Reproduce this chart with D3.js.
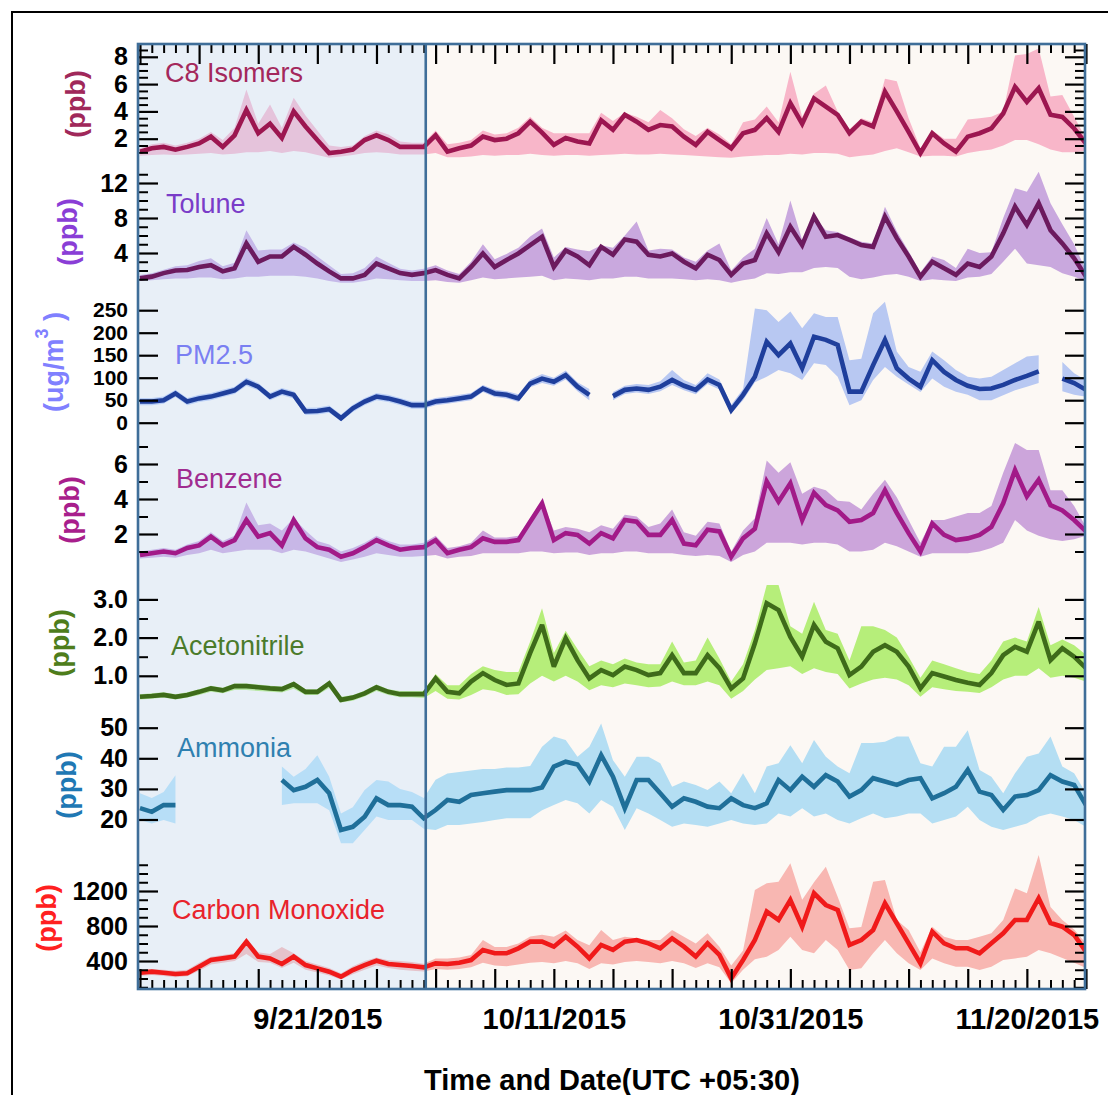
<!DOCTYPE html>
<html>
<head>
<meta charset="utf-8">
<script src="https://cdn.jsdelivr.net/npm/d3@7"></script>
<style>
  html, body { margin: 0; padding: 0; background: #ffffff; }
  svg { display: block; font-family: "Liberation Sans", Arial, Helvetica, sans-serif; }
</style>
</head>
<body>
<svg id="chart" width="1108" height="1095"></svg>
<script>
// ---- Daily observations, 6 Sep 2015 .. 25 Nov 2015 (81 days) ----
const firstDay = Date.UTC(2015, 8, 6);
const lastDay = Date.UTC(2015, 10, 26);
const days = d3.utcDay.range(new Date(firstDay), new Date(lastDay));

// C8 Isomers (ppb): daily mean, lower and upper envelope
const c8Mean = [1.05,1.3,1.4,1.2,1.4,1.65,2.15,1.4,2.25,4.1,
  2.4,3.1,2.05,4.0,2.9,1.9,0.95,1.05,1.2,1.9,
  2.25,1.9,1.4,1.4,1.4,2.25,1.05,1.3,1.5,2.15,
  1.9,2.0,2.4,3.25,2.45,1.55,2.05,1.8,1.65,3.35,
  2.65,3.75,3.25,2.65,3.0,2.9,2.15,1.55,2.5,1.9,
  1.3,2.4,2.65,3.5,2.5,4.6,3.1,4.95,4.35,3.75,
  2.4,3.25,2.9,5.45,4.0,2.5,0.95,2.4,1.65,1.05,
  2.15,2.4,2.75,3.85,5.8,4.7,5.7,3.75,3.6,2.75,
  1.65];
const c8Hi = [1.3,1.6,1.7,1.5,1.7,2.0,2.5,1.9,2.8,5.6,
  3.1,4.5,2.8,5.0,3.7,2.6,1.5,1.4,1.5,2.2,
  2.6,2.3,1.8,1.7,1.7,2.6,1.6,1.7,1.9,2.6,
  2.3,2.4,2.8,3.6,2.8,2.4,2.4,2.4,2.4,3.9,
  3.3,3.9,3.6,3.2,4.1,3.5,2.7,2.2,2.8,2.3,
  1.6,3.2,3.4,4.35,3.2,6.9,3.6,5.3,5.9,4.0,
  2.7,3.5,3.2,6.4,6.2,3.5,1.3,2.6,2.0,2.0,
  3.4,3.5,3.6,4.0,8.1,8.2,8.6,5.1,5.2,3.6,
  2.0];
const c8Lo = [0.75,0.8,0.85,0.8,0.85,0.9,0.95,0.85,0.9,1.0,
  1.0,1.1,0.95,1.1,1.0,0.8,0.6,0.7,0.8,0.95,
  1.0,0.95,0.85,0.85,0.85,0.95,0.65,0.65,0.7,0.8,
  0.75,0.8,0.8,0.9,0.8,0.75,0.8,0.8,0.75,0.8,
  0.85,0.9,0.85,0.85,0.9,0.85,0.8,0.75,0.7,0.65,
  0.6,0.7,0.75,0.8,0.8,0.9,0.85,0.95,0.95,0.9,
  0.65,0.75,0.85,1.1,1.3,1.0,0.7,0.75,0.75,0.7,
  0.95,1.1,1.2,1.5,1.9,1.9,1.6,1.2,1.0,1.0,
  1.1];

// Toluene (ppb)
const tolMean = [1.1,1.3,1.7,2.0,2.05,2.4,2.6,1.9,2.25,5.1,
  3.0,3.6,3.6,4.7,3.8,2.8,1.9,1.1,1.1,1.5,
  2.8,2.25,1.7,1.5,1.7,2.05,1.5,1.1,2.4,3.95,
  2.4,3.2,3.95,4.9,5.85,2.4,4.3,3.6,2.6,4.7,
  3.8,5.55,5.3,3.8,3.6,3.95,3.0,2.25,3.8,3.2,
  1.5,2.8,3.2,6.25,4.1,7.0,4.9,8.15,5.85,6.05,
  5.5,4.9,4.7,8.15,5.7,3.6,1.3,3.0,2.25,1.5,
  2.8,2.4,3.6,6.25,9.3,7.2,9.7,6.6,5.1,3.4,
  1.3];
const tolHi = [1.5,1.7,2.1,2.5,2.6,3.1,3.4,2.5,2.9,6.6,
  4.3,4.4,4.4,5.2,4.6,3.6,2.6,1.6,1.7,2.3,
  3.6,2.9,2.2,2.0,2.2,2.6,2.0,1.6,3.0,5.0,
  3.3,3.9,4.6,5.9,6.8,3.5,4.7,4.4,4.2,4.9,
  4.6,6.0,7.6,4.3,4.5,4.4,3.5,3.0,4.3,5.1,
  2.0,3.5,4.5,8.0,5.0,10.0,5.5,8.2,6.6,6.4,
  5.8,5.3,5.1,9.3,6.5,4.2,1.8,3.6,3.2,2.3,
  4.5,4.0,4.1,8.0,11.4,11.0,13.3,9.7,7.3,5.0,
  2.0];
const tolLo = [0.8,0.9,1.0,1.1,1.1,1.2,1.2,1.0,1.1,1.3,
  1.3,1.4,1.4,1.4,1.3,1.1,0.8,0.6,0.6,0.8,
  1.1,1.0,0.9,0.8,0.8,0.9,0.7,0.6,0.9,1.2,
  1.0,1.1,1.2,1.3,1.4,0.9,1.1,1.0,0.9,1.1,
  1.1,1.3,1.3,1.1,1.1,1.1,1.0,0.9,1.0,0.9,
  0.6,0.9,1.1,1.7,1.6,1.8,1.8,2.3,2.4,2.3,
  1.3,1.0,1.2,1.5,1.6,1.3,0.8,1.0,0.9,0.8,
  1.2,1.3,1.6,3.0,4.5,2.8,2.6,2.4,1.7,1.3,
  0.8];

// PM2.5 (ug/m3); null = no measurement that day
const pmMean = [47,47,50,65,47,54,58,65,72,91,
  80,58,69,62,25,26,30,10,32,47,
  58,54,47,39,39,47,50,54,58,76,
  65,62,54,87,98,91,106,80,62,null,
  59,73,76,73,80,95,82,73,96,84,
  28,62,102,180,150,176,121,191,184,173,
  69,69,128,184,121,98,80,139,113,95,
  82,75,76,84,95,104,114,null,98,88,
  73];
const pmHi = [55,55,58,73,55,62,66,73,80,100,
  88,66,77,70,33,34,38,18,40,55,
  66,62,55,47,47,55,58,62,66,84,
  73,70,63,96,108,100,116,90,75,null,
  68,82,86,84,92,117,95,84,110,96,
  40,75,254,250,224,247,210,243,235,235,
  139,142,243,269,158,124,113,158,139,117,
  102,98,102,117,132,147,150,null,135,110,
  95];
const pmLo = [39,39,42,57,39,46,50,57,64,82,
  72,50,61,54,17,18,22,3,24,39,
  50,46,39,31,31,39,42,46,50,68,
  57,54,46,79,88,82,96,70,50,null,
  50,64,67,64,70,84,72,63,86,74,
  21,50,90,102,117,110,95,132,128,102,
  39,50,95,124,102,85,68,98,80,69,
  62,50,50,61,72,80,88,null,70,62,
  58];

// Benzene (ppb)
const benMean = [0.8,0.9,1.0,0.9,1.2,1.35,1.85,1.35,1.65,2.8,
  1.85,2.05,1.35,2.8,1.75,1.25,1.1,0.7,0.9,1.25,
  1.65,1.35,1.1,1.2,1.25,1.65,0.9,1.1,1.25,1.75,
  1.55,1.55,1.65,2.7,3.75,1.65,2.05,1.95,1.45,2.05,
  1.75,2.8,2.7,1.95,1.95,2.8,1.45,1.35,2.25,2.15,
  0.7,1.75,2.3,5.0,3.85,4.9,2.8,4.35,3.65,3.35,
  2.7,2.8,3.2,4.5,3.2,2.05,1.0,2.6,1.95,1.65,
  1.75,1.95,2.4,3.75,5.65,4.15,5.1,3.65,3.35,2.8,
  2.15];
const benHi = [1.0,1.1,1.2,1.1,1.4,1.6,2.1,1.6,1.9,3.8,
  2.5,2.6,2.2,2.9,2.2,1.6,1.4,1.0,1.2,1.5,
  1.9,1.6,1.4,1.4,1.5,1.9,1.2,1.3,1.5,2.2,
  1.8,1.8,1.9,2.9,3.9,2.2,2.4,2.3,2.1,2.5,
  2.3,3.1,3.0,2.4,2.6,3.4,2.1,1.9,2.7,2.6,
  1.0,2.2,2.9,6.2,5.5,6.1,4.3,4.7,4.5,3.9,
  3.85,3.4,4.3,5.1,4.1,2.8,1.5,2.8,2.8,3.0,
  3.2,3.2,3.6,5.5,7.2,6.8,6.8,4.5,4.5,3.6,
  2.4];
const benLo = [0.6,0.65,0.7,0.65,0.8,0.9,1.1,0.9,1.0,1.1,
  1.1,1.1,0.9,1.1,1.0,0.8,0.6,0.4,0.55,0.7,
  0.9,0.8,0.7,0.7,0.75,0.8,0.6,0.7,0.75,0.9,
  0.9,0.9,0.9,1.0,1.0,0.9,0.95,0.95,0.8,0.9,
  0.9,1.0,1.0,0.9,0.9,0.9,0.8,0.75,0.8,0.75,
  0.4,0.8,1.0,1.5,1.5,1.5,1.4,1.5,1.5,1.4,
  1.0,1.0,1.1,1.5,1.3,1.0,0.7,0.9,0.9,0.9,
  0.9,1.0,1.2,1.5,2.8,2.2,1.9,1.7,1.6,1.7,
  1.9];

// Acetonitrile (ppb)
const acnMean = [0.45,0.47,0.5,0.45,0.5,0.58,0.67,0.62,0.73,0.73,
  0.7,0.67,0.65,0.78,0.58,0.58,0.8,0.37,0.43,0.54,
  0.7,0.58,0.52,0.52,0.52,0.93,0.58,0.54,0.85,1.07,
  0.89,0.76,0.8,1.6,2.33,1.24,1.98,1.41,0.93,1.15,
  1.02,1.24,1.15,1.02,1.07,1.54,1.07,1.07,1.54,1.2,
  0.67,0.93,1.85,2.9,2.72,2.02,1.5,2.33,1.89,1.72,
  1.02,1.24,1.63,1.8,1.63,1.24,0.67,1.07,0.98,0.89,
  0.82,0.76,1.07,1.54,1.76,1.63,2.42,1.41,1.72,1.5,
  1.2];
const acnHi = [0.52,0.54,0.57,0.52,0.57,0.65,0.74,0.69,0.8,0.8,
  0.77,0.74,0.72,0.85,0.65,0.65,0.87,0.45,0.5,0.61,
  0.77,0.65,0.6,0.6,0.6,1.05,0.75,0.75,1.05,1.25,
  1.15,1.1,1.1,1.9,2.77,1.6,2.18,1.7,1.25,1.4,
  1.3,1.45,1.35,1.3,1.3,1.9,1.35,1.4,2.0,1.45,
  0.85,1.3,2.2,3.38,3.38,2.3,2.1,2.94,2.2,2.1,
  1.4,2.3,2.3,2.2,2.0,1.5,0.95,1.4,1.3,1.2,
  1.1,1.05,1.4,1.9,2.0,1.9,2.8,1.8,1.95,1.8,
  1.55];
const acnLo = [0.38,0.4,0.43,0.38,0.43,0.5,0.58,0.54,0.63,0.63,
  0.6,0.58,0.56,0.66,0.5,0.5,0.68,0.3,0.35,0.46,
  0.6,0.5,0.44,0.44,0.42,0.6,0.4,0.38,0.5,0.65,
  0.6,0.5,0.52,0.8,1.0,0.85,1.0,0.85,0.62,0.75,
  0.7,0.8,0.75,0.7,0.72,0.85,0.75,0.75,0.85,0.75,
  0.4,0.6,0.9,1.15,1.2,1.25,1.05,1.2,1.1,1.05,
  0.67,0.8,0.9,0.95,0.9,0.75,0.45,0.7,0.65,0.6,
  0.58,0.55,0.7,0.9,1.0,1.0,1.2,0.95,1.0,0.95,
  0.85];

// Ammonia (ppb); instrument offline 10-17 Sep
const nh3Mean = [23.7,22.5,24.7,24.7,null,null,null,null,null,null,
  null,null,32.9,29.6,30.7,32.9,28.6,16.6,17.6,20.9,
  26.9,24.7,24.7,24.2,20.4,23.1,26.4,25.8,28,28.6,
  29.1,29.6,29.6,29.6,30.5,37.3,38.9,38,32.4,41,
  34,23.7,32.9,32.9,28.6,24.2,26.9,25.8,24.2,23.7,
  26.9,24.7,23.7,25.3,32.9,29.6,34,30.7,34.5,32.4,
  27.5,29.6,33.5,32.4,31.3,32.9,33.5,26.9,28.6,30.7,
  36.2,29.1,28,23.1,27.5,28,29.6,34.5,32.4,31.3,
  24.7];
const nh3Hi = [28.6,27,29,34.5,null,null,null,null,null,null,
  null,null,37.3,34,36.5,41,34,22,24,29.6,
  32.9,32.4,30,29,27,33,35,35.5,36,36.5,
  36.5,37,37,37.5,43.8,47.1,46,40.5,43.8,51.4,
  39.4,34,40.5,40.5,38.4,30.7,32.4,31.3,29.6,32.4,
  28.6,35.1,28.6,37.3,38.4,44.3,38.4,46,40.5,37.3,
  35.1,45,45,45.4,47.1,47.1,38.4,37.3,43.8,43.8,
  49.2,36.2,34,28.6,35.1,40.5,41.6,47.1,37.3,35.1,
  28.6];
const nh3Lo = [19.8,18.7,19.8,18.7,null,null,null,null,null,null,
  null,null,24.7,25.3,25.3,25.3,23,12.2,12.2,16.6,
  21,19.8,19.8,19.8,17,16.6,18.2,18.2,18.7,19.2,
  19.8,20.4,20.4,20.4,23,24.7,26.4,25.3,22,26.4,
  24.2,16.6,23.7,22,19.8,17.6,18.7,18.2,17.6,18.7,
  19.8,18.7,18.2,18.7,22,21,23.7,21,22,19.8,
  18.7,20.4,22,20.4,21,22,22,18.7,19.8,21,
  24.2,19.8,17.6,16.6,17.6,18.7,21,22,21,19.8,
  17.6];

// Carbon monoxide (ppb)
const coMean = [266,278,266,251,259,335,411,430,450,621,
  450,430,366,450,354,316,278,221,297,354,
  403,366,354,342,327,373,366,381,411,526,
  488,488,545,621,621,564,678,564,430,583,
  526,621,640,602,545,659,564,450,602,469,
  202,411,640,964,869,1097,792,1174,1040,983,
  583,640,754,1059,831,602,373,735,602,545,
  545,488,602,716,869,869,1117,834,792,697,
  507];
const coHi = [300,310,300,290,300,380,450,470,490,640,
  500,480,560,490,400,360,320,260,340,400,
  440,410,400,390,370,430,430,440,470,640,
  560,560,600,680,700,678,750,640,580,754,
  640,678,660,640,640,754,678,600,716,564,
  350,520,1211,1288,1307,1516,1100,1300,1478,1135,
  773,790,1307,1326,869,754,500,792,678,640,
  640,678,716,869,1230,1174,1611,1016,870,760,
  600];
const coLo = [230,240,230,215,225,290,360,380,400,480,
  390,380,320,380,300,270,235,190,250,300,
  350,320,300,290,280,310,300,310,330,380,
  350,340,360,380,390,373,400,373,310,373,
  360,390,400,390,373,400,373,320,373,330,
  145,300,420,450,526,678,526,488,640,526,
  297,316,488,640,488,373,297,430,373,335,
  335,297,335,411,430,450,526,488,434,380,
  320];

// Axis tick values
const c8Ticks = [2, 4, 6, 8];
const tolTicks = [4, 8, 12];
const pmTicks = [0, 50, 100, 150, 200, 250];
const benTicks = [2, 4, 6];
const acnTicks = [1.0, 2.0, 3.0];
const nh3Ticks = [20, 30, 40, 50];
const coTicks = [400, 800, 1200];
const dateLabels = [Date.UTC(2015, 8, 21), Date.UTC(2015, 9, 11), Date.UTC(2015, 9, 31), Date.UTC(2015, 10, 20)];

// ---- Layout ----
const plot = { left: 138, right: 1085, top: 44, bottom: 989 };
const splitTime = new Date(Date.UTC(2015, 8, 30, 4));
const frameColor = "#3f6e99";

const panels = [
  { label: "C8 Isomers", unit: "(ppb)", mean: c8Mean, lo: c8Lo, hi: c8Hi,
    domain: [0, 8], range: [166, 56.8], ticks: c8Ticks, minor: d3.range(1, 8.51, 0.5), fmt: d3.format("d"), tickFont: 25,
    line: "#9c1650", fill: "#f8b6c9", text: "#a4285c", unitColor: "#a0285a",
    labelPos: [165, 82], unitPos: [76, 104] },
  { label: "Tolune", unit: "(ppb)", mean: tolMean, lo: tolLo, hi: tolHi,
    domain: [0, 12], range: [288, 183], ticks: tolTicks, minor: d3.range(1, 13.1, 1), fmt: d3.format("d"), tickFont: 25,
    line: "#6c1a5e", fill: "#c9a8de", text: "#7a3cc8", unitColor: "#8a3ed6",
    labelPos: [166, 213], unitPos: [68, 232] },
  { label: "PM2.5", unit: "pm", mean: pmMean, lo: pmLo, hi: pmHi,
    domain: [0, 250], range: [422.7, 310.2], ticks: pmTicks, minor: [], fmt: d3.format("d"), tickFont: 21,
    line: "#1f3f9c", fill: "#b8c8f2", text: "#7a7ff2", unitColor: "#8080ff",
    labelPos: [175, 364], unitPos: [54, 362] },
  { label: "Benzene", unit: "(ppb)", mean: benMean, lo: benLo, hi: benHi,
    domain: [0, 6], range: [569, 464], ticks: benTicks, minor: [1, 3, 5, 7], fmt: d3.format("d"), tickFont: 25,
    line: "#a21a88", fill: "#cca5db", text: "#a02c90", unitColor: "#a81e8c",
    labelPos: [176, 488], unitPos: [70, 510] },
  { label: "Acetonitrile", unit: "(ppb)", mean: acnMean, lo: acnLo, hi: acnHi,
    domain: [0, 3], range: [714, 599.4], ticks: acnTicks, minor: [1.5, 2.5], fmt: d3.format(".1f"), tickFont: 25,
    line: "#3e6b1a", fill: "#b6ee7a", text: "#4b7b2b", unitColor: "#4e7d1c",
    labelPos: [171, 655], unitPos: [60, 643] },
  { label: "Ammonia", unit: "(ppb)", mean: nh3Mean, lo: nh3Lo, hi: nh3Hi,
    domain: [20, 50], range: [819.5, 727.7], ticks: nh3Ticks, minor: [], fmt: d3.format("d"), tickFont: 25,
    line: "#1f6f99", fill: "#b4def3", text: "#2f80b0", unitColor: "#1f78b4",
    labelPos: [177, 757], unitPos: [67, 785] },
  { label: "Carbon Monoxide", unit: "(ppb)", mean: coMean, lo: coLo, hi: coHi,
    domain: [400, 1200], range: [961, 891], ticks: coTicks, minor: d3.range(100, 1501, 100), fmt: d3.format("d"), tickFont: 25,
    line: "#f01a1a", fill: "#f8b7b2", text: "#e8232c", unitColor: "#ff2020",
    labelPos: [172, 919], unitPos: [47, 918] }
];

const svg = d3.select("#chart");

const x = d3.scaleUtc()
  .domain([new Date(Date.UTC(2015, 8, 5, 20)), new Date(Date.UTC(2015, 10, 24, 22))])
  .range([plot.left, plot.right]);

// outer border
svg.append("rect").attr("x", 12).attr("y", 12).attr("width", 1300).attr("height", 1300)
  .attr("fill", "#ffffff").attr("stroke", "#000000").attr("stroke-width", 2);

svg.append("defs").append("clipPath").attr("id", "plotClip")
  .append("rect").attr("x", plot.left).attr("y", plot.top)
  .attr("width", plot.right - plot.left).attr("height", plot.bottom - plot.top);

// background
svg.append("rect").attr("x", plot.left).attr("y", plot.top)
  .attr("width", plot.right - plot.left).attr("height", plot.bottom - plot.top)
  .attr("fill", "#fcf8f4");

const gFill = svg.append("g").attr("clip-path", "url(#plotClip)");
const gShade = svg.append("g");
const gLine = svg.append("g").attr("clip-path", "url(#plotClip)");
const gAxes = svg.append("g");
const gText = svg.append("g");

panels.forEach(p => {
  const y = d3.scaleLinear().domain(p.domain).range(p.range);
  const rows = days.map((d, i) => ({ t: d, m: p.mean[i], lo: p.lo[i], hi: p.hi[i] }));
  const ok = r => r.m != null && r.lo != null && r.hi != null;

  const area = d3.area().defined(ok)
    .x(r => x(r.t)).y0(r => y(r.lo)).y1(r => y(r.hi));
  gFill.append("path").datum(rows).attr("d", area).attr("fill", p.fill);

  const line = d3.line().defined(r => r.m != null)
    .x(r => x(r.t)).y(r => y(r.m));
  gLine.append("path").datum(rows).attr("d", line)
    .attr("fill", "none").attr("stroke", p.line).attr("stroke-width", 4.6)
    .attr("stroke-linejoin", "miter").attr("stroke-miterlimit", 3);

  // left axis: labelled major ticks, then minor ticks
  const minorVals = p.minor.filter(v => !p.ticks.includes(v));
  gAxes.append("g").attr("transform", `translate(${plot.left},0)`)
    .call(d3.axisLeft(y).tickValues(p.ticks).tickFormat(p.fmt).tickSizeInner(-20).tickSizeOuter(0).tickPadding(10))
    .call(g => g.select(".domain").remove())
    .call(g => g.selectAll("line").attr("stroke", "#000").attr("stroke-width", 2.2))
    .call(g => g.selectAll("text").attr("font-size", p.tickFont).attr("font-weight", "bold")
      .attr("fill", "#000").attr("font-family", "'Liberation Sans', Arial, sans-serif"));
  gAxes.append("g").attr("transform", `translate(${plot.left},0)`)
    .call(d3.axisLeft(y).tickValues(minorVals).tickFormat("").tickSizeInner(-10).tickSizeOuter(0))
    .call(g => g.select(".domain").remove())
    .call(g => g.selectAll("line").attr("stroke", "#000").attr("stroke-width", 2));

  // mirrored right axis
  gAxes.append("g").attr("transform", `translate(${plot.right},0)`)
    .call(d3.axisRight(y).tickValues(p.ticks).tickFormat("").tickSizeInner(-20).tickSizeOuter(0))
    .call(g => g.select(".domain").remove())
    .call(g => g.selectAll("line").attr("stroke", "#000").attr("stroke-width", 2.2));
  gAxes.append("g").attr("transform", `translate(${plot.right},0)`)
    .call(d3.axisRight(y).tickValues(minorVals).tickFormat("").tickSizeInner(-10).tickSizeOuter(0))
    .call(g => g.select(".domain").remove())
    .call(g => g.selectAll("line").attr("stroke", "#000").attr("stroke-width", 2));

  // series name inside the panel
  gText.append("text").attr("x", p.labelPos[0]).attr("y", p.labelPos[1])
    .attr("font-size", 27).attr("fill", p.text).text(p.label);

  // rotated unit label
  const u = gText.append("text")
    .attr("transform", `translate(${p.unitPos[0]},${p.unitPos[1]}) rotate(-90)`)
    .attr("text-anchor", "middle").attr("dominant-baseline", "central")
    .attr("font-size", 27).attr("font-weight", "bold").attr("fill", p.unitColor);
  if (p.unit === "pm") {
    u.append("tspan").text("(ug/m");
    u.append("tspan").attr("font-size", 18).attr("dy", -12).text("3");
    u.append("tspan").attr("dy", 12).text(" )");
  } else {
    u.text(p.unit);
  }
});

// shaded first period (drawn translucent over the envelopes, under the lines)
gShade.append("rect").attr("x", plot.left).attr("y", plot.top)
  .attr("width", x(splitTime) - plot.left).attr("height", plot.bottom - plot.top)
  .attr("fill", "rgb(192,222,255)").attr("fill-opacity", 0.33);

// date ticks on top and bottom frame: major every 5 days, minor daily
const majorDays = d3.utcDay.range(new Date(firstDay), new Date(lastDay), 5);
const minorDays = days.filter(d => !majorDays.some(m => +m === +d));
[[d3.axisTop, plot.top], [d3.axisBottom, plot.bottom]].forEach(([ax, yy]) => {
  gAxes.append("g").attr("transform", `translate(0,${yy})`)
    .call(ax(x).tickValues(majorDays).tickFormat("").tickSizeInner(-20).tickSizeOuter(0))
    .call(g => g.select(".domain").remove())
    .call(g => g.selectAll("line").attr("stroke", "#000").attr("stroke-width", 2.2));
  gAxes.append("g").attr("transform", `translate(0,${yy})`)
    .call(ax(x).tickValues(minorDays).tickFormat("").tickSizeInner(-9).tickSizeOuter(0))
    .call(g => g.select(".domain").remove())
    .call(g => g.selectAll("line").attr("stroke", "#000").attr("stroke-width", 2));
});

// date labels
gAxes.append("g").attr("transform", `translate(0,${plot.bottom})`)
  .call(d3.axisBottom(x).tickValues(dateLabels.map(d => new Date(d)))
    .tickFormat(d3.utcFormat("%-m/%-d/%Y")).tickSize(0).tickPadding(19))
  .call(g => g.select(".domain").remove())
  .call(g => g.selectAll("text").attr("font-size", 29).attr("font-weight", "bold")
    .attr("fill", "#000").attr("font-family", "'Liberation Sans', Arial, sans-serif"));

// period divider and plot frame
svg.append("line").attr("x1", x(splitTime)).attr("x2", x(splitTime))
  .attr("y1", plot.top).attr("y2", plot.bottom)
  .attr("stroke", frameColor).attr("stroke-width", 2.6);
svg.append("rect").attr("x", plot.left).attr("y", plot.top)
  .attr("width", plot.right - plot.left).attr("height", plot.bottom - plot.top)
  .attr("fill", "none").attr("stroke", frameColor).attr("stroke-width", 2.6);

// x-axis title
svg.append("text").attr("x", 612).attr("y", 1090).attr("text-anchor", "middle")
  .attr("font-size", 29).attr("font-weight", "bold").attr("fill", "#000")
  .text("Time and Date(UTC +05:30)");
</script>
</body>
</html>
